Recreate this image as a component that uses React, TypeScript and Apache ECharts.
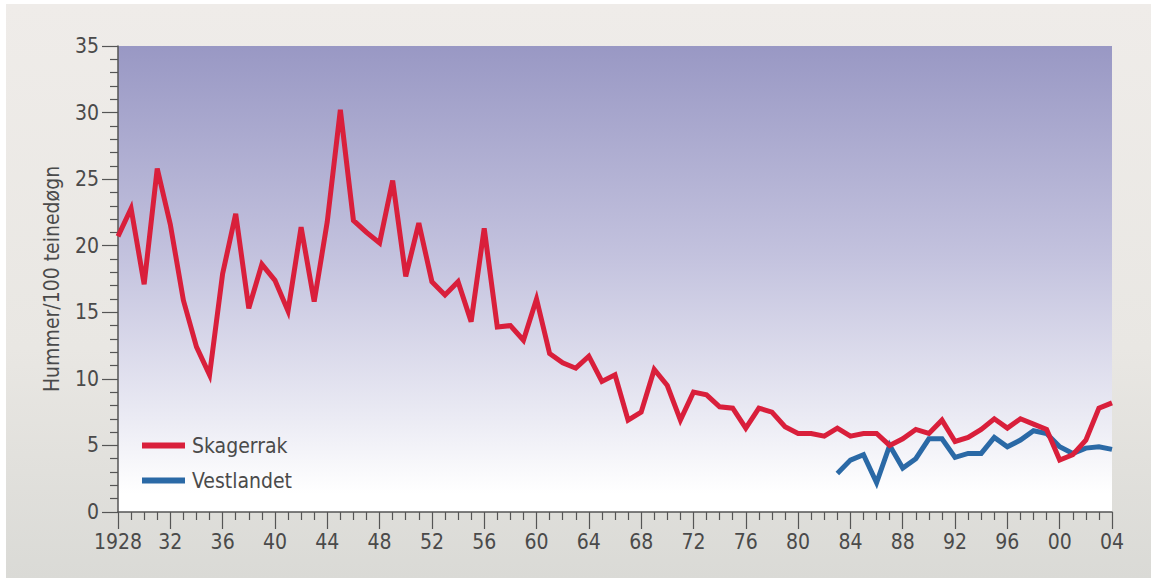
import React, { useEffect, useRef } from "react";
import * as echarts from "echarts";

const skagerrakYears = [
  1928, 1929, 1930, 1931, 1932, 1933, 1934, 1935, 1936, 1937, 1938, 1939, 1940, 1941, 1942, 1943, 1944, 1945, 1946,
  1947, 1948, 1949, 1950, 1951, 1952, 1953, 1954, 1955, 1956, 1957, 1958, 1959, 1960, 1961, 1962, 1963, 1964, 1965,
  1966, 1967, 1968, 1969, 1970, 1971, 1972, 1973, 1974, 1975, 1976, 1977, 1978, 1979, 1980, 1981, 1982, 1983, 1984,
  1985, 1986, 1987, 1988, 1989, 1990, 1991, 1992, 1993, 1994, 1995, 1996, 1997, 1998, 1999, 2000, 2001, 2002, 2003,
  2004,
];
const skagerrakValues = [
  20.7, 22.8, 17.1, 25.8, 21.6, 15.9, 12.4, 10.3, 17.9, 22.4, 15.3, 18.6, 17.4, 15.1, 21.4, 15.8, 21.8, 30.2, 21.9,
  21.0, 20.2, 24.9, 17.7, 21.7, 17.3, 16.3, 17.3, 14.3, 21.3, 13.9, 14.0, 12.9, 16.0, 11.9, 11.2, 10.8, 11.7, 9.8,
  10.3, 6.9, 7.5, 10.7, 9.5, 6.9, 9.0, 8.8, 7.9, 7.8, 6.3, 7.8, 7.5, 6.4, 5.9, 5.9, 5.7, 6.3, 5.7, 5.9, 5.9, 5.0,
  5.5, 6.2, 5.9, 6.9, 5.3, 5.6, 6.2, 7.0, 6.3, 7.0, 6.6, 6.2, 3.9, 4.3, 5.4, 7.8, 8.2,
];

const vestlandetYears = [
  1983, 1984, 1985, 1986, 1987, 1988, 1989, 1990, 1991, 1992, 1993, 1994, 1995, 1996, 1997, 1998, 1999, 2000, 2001,
  2002, 2003, 2004,
];
const vestlandetValues = [
  2.9, 3.9, 4.3, 2.2, 5.0, 3.3, 4.0, 5.5, 5.5, 4.1, 4.4, 4.4, 5.6, 4.9, 5.4, 6.1, 5.9, 4.9, 4.4, 4.8, 4.9, 4.7,
];

const seriesNames = ["Skagerrak", "Vestlandet"];
const yAxisTitle = "Hummer/100 teinedøgn";

const FONT = "'DejaVu Sans Condensed', 'DejaVu Sans', sans-serif";
const TEXT = "#4a4a4a";
const AXIS = "#555555";

export default function App() {
  const ref = useRef<HTMLDivElement>(null);

  useEffect(() => {
    if (!ref.current) return;
    const chart = echarts.init(ref.current, null, { renderer: "svg" });
    const pair = (ys: number[], vs: number[]) => ys.map((y, i) => [y, vs[i]]);

    chart.setOption({
      animation: false,
      grid: {
        left: 118,
        right: 39,
        top: 46,
        bottom: 66,
        show: true,
        borderWidth: 0,
        backgroundColor: new echarts.graphic.LinearGradient(0, 0, 0, 1, [
          { offset: 0, color: "#9998c4" },
          { offset: 0.45, color: "#c3c2de" },
          { offset: 0.8, color: "#ebebf4" },
          { offset: 0.96, color: "#ffffff" },
          { offset: 1, color: "#ffffff" },
        ]),
      },
      legend: {
        orient: "vertical",
        left: 137,
        top: 430,
        itemWidth: 43,
        itemHeight: 6,
        itemGap: 14,
        icon: "rect",
        data: seriesNames,
        textStyle: { fontFamily: FONT, fontSize: 21, color: TEXT, padding: [0, 0, 0, 2] },
      },
      xAxis: {
        type: "value",
        min: 1928,
        max: 2004,
        interval: 4,
        axisLine: { show: true, lineStyle: { color: AXIS, width: 1.5 } },
        axisTick: { show: true, length: 17, lineStyle: { color: AXIS, width: 1.2 } },
        minorTick: { show: true, splitNumber: 4, length: 8, lineStyle: { color: AXIS, width: 1.2 } },
        splitLine: { show: false },
        minorSplitLine: { show: false },
        axisLabel: {
          margin: 19,
          fontFamily: FONT,
          fontSize: 21,
          color: TEXT,
          formatter: (v: number) => (v === 1928 ? "1928" : String(v % 100).padStart(2, "0")),
        },
      },
      yAxis: {
        type: "value",
        min: 0,
        max: 35,
        interval: 5,
        name: yAxisTitle,
        nameLocation: "middle",
        nameGap: 56,
        nameTextStyle: { fontFamily: FONT, fontSize: 21, color: TEXT },
        axisLine: { show: true, lineStyle: { color: AXIS, width: 1.5 } },
        axisTick: { show: true, length: 16, lineStyle: { color: AXIS, width: 1.2 } },
        minorTick: { show: true, splitNumber: 5, length: 8, lineStyle: { color: AXIS, width: 1.2 } },
        splitLine: { show: false },
        minorSplitLine: { show: false },
        axisLabel: { margin: 19, fontFamily: FONT, fontSize: 21, color: TEXT },
      },
      series: [
        {
          name: seriesNames[0],
          type: "line",
          data: pair(skagerrakYears, skagerrakValues),
          showSymbol: false,
          symbol: "none",
          color: "#d91f3b",
          lineStyle: { color: "#d91f3b", width: 5, join: "miter" },
          z: 3,
        },
        {
          name: seriesNames[1],
          type: "line",
          data: pair(vestlandetYears, vestlandetValues),
          showSymbol: false,
          symbol: "none",
          color: "#2a69a6",
          lineStyle: { color: "#2a69a6", width: 5, join: "miter" },
          z: 2,
        },
      ],
    });

    return () => chart.dispose();
  }, []);

  return (
    <div
      style={{
        position: "fixed",
        left: 0,
        top: 0,
        width: 1151,
        height: 578,
        background: "#ffffff",
      }}
    >
      <div
        style={{
          position: "absolute",
          left: 6,
          top: 4,
          right: 0,
          bottom: 0,
          background: "linear-gradient(to bottom, #efece9 0%, #e9e7e3 60%, #dadad6 100%)",
        }}
      />
      <div ref={ref} style={{ position: "absolute", left: 0, top: 0, width: 1151, height: 578 }} />
    </div>
  );
}
